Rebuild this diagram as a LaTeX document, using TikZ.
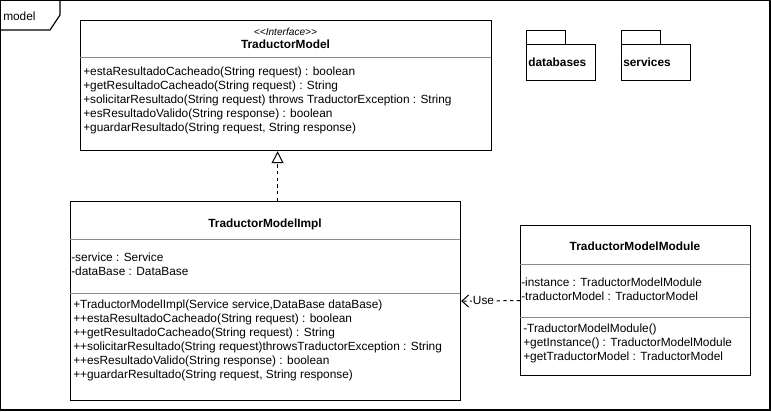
\documentclass[tikz,border=0pt]{standalone}
\usepackage{fontspec}
\setmainfont{Liberation Sans}
\usepackage{tikz}
\usetikzlibrary{arrows.meta}
\definecolor{sepgray}{HTML}{8C8C8C}
\definecolor{inkblack}{HTML}{000000}

\begin{document}
\begin{tikzpicture}[x=0.75pt,y=-0.75pt,>=Latex,
  every node/.style={font=\fontsize{8.9}{10}\selectfont, inner sep=0pt},
  classbox/.style={draw=inkblack, line width=0.9pt, anchor=north west},
  member/.style={anchor=west, text height=6.6pt, text depth=2pt},
  classname/.style={font=\fontsize{8.9}{10}\selectfont\bfseries},
  sepline/.style={draw=sepgray, line width=0.75pt}]
\useasboundingbox (0,0) rectangle (771,411);
% frame and tab
\draw[line width=0.9pt] (0.5,0.5) rectangle (770,410);
\draw[line width=0.9pt] (0.5,30) -- (50,30) -- (60,15) -- (60,0.5);
\node[anchor=west] (modeltab) at (3,16) {model};

% interface
\node[classbox, minimum width=411*0.75pt, minimum height=130*0.75pt] (iface) at (80,20) {};
\node[font=\fontsize{7.6}{8}\selectfont\itshape] (ifacest) at (285.5,32) {\textless\kern0pt\textless Interface\textgreater\kern0pt\textgreater};
\node[classname] (ifacename) at (285.5,44) {TraductorModel};
\draw[sepline] (80,57) -- (491,57);
\foreach \txt [count=\i] in {{+estaResultadoCacheado(String request) : boolean},
  {+getResultadoCacheado(String request) : String},
  {+solicitarResultado(String request) throws TraductorException : String},
  {+esResultadoValido(String response) : boolean},
  {+guardarResultado(String request, String response)}}
  \node[member] (ifop\i) at (83,58+14*\i) {\txt};

% packages
\draw[line width=0.75pt] (526,30) rectangle (565,44);
\draw[line width=0.75pt] (526,44) rectangle (595,80);
\node[classname, anchor=west] (pkgdb) at (528,62) {databases};
\draw[line width=0.75pt] (621,30) rectangle (660,44);
\draw[line width=0.75pt] (621,44) rectangle (690,80);
\node[classname, anchor=west] (pkgsrv) at (623,62) {services};

% implementation
\node[classbox, minimum width=390*0.75pt, minimum height=199*0.75pt] (impl) at (70,201) {};
\node[classname] (implname) at (265,224) {TraductorModelImpl};
\draw[sepline] (70,239) -- (460,239);
\foreach \txt [count=\i] in {{-service : Service}, {-dataBase : DataBase}}
  \node[member] (implat\i) at (71,244+14*\i) {\txt};
\draw[sepline] (70,293) -- (460,293);
\foreach \txt [count=\i] in {{+TraductorModelImpl(Service service,DataBase dataBase)},
  {++estaResultadoCacheado(String request) : boolean},
  {++getResultadoCacheado(String request) : String},
  {++solicitarResultado(String request)throwsTraductorException : String},
  {++esResultadoValido(String response) : boolean},
  {++guardarResultado(String request, String response)}}
  \node[member] (implop\i) at (73,291+14*\i) {\txt};

% module
\node[classbox, minimum width=230*0.75pt, minimum height=150*0.75pt] (module) at (520,225) {};
\node[classname] (modulename) at (635,246) {TraductorModelModule};
\draw[sepline] (520,264) -- (750,264);
\foreach \txt [count=\i] in {{-instance : TraductorModelModule}, {-traductorModel : TraductorModel}}
  \node[member] (modat\i) at (521,269+14*\i) {\txt};
\draw[sepline] (520,317) -- (750,317);
\foreach \txt [count=\i] in {{-TraductorModelModule()}, {+getInstance() : TraductorModelModule},
  {+getTraductorModel : TraductorModel}}
  \node[member] (modop\i) at (523,315+14*\i) {\txt};

% relations
\draw[line width=0.75pt, dash pattern=on 2.5pt off 2.5pt, -{Triangle[open, length=9pt, width=9pt]}]
  ([xshift=9pt]impl.north) -- ([xshift=9pt]impl.north |- iface.south);
\draw[line width=0.75pt, dash pattern=on 2.5pt off 2.5pt, -{Straight Barb[length=5pt, width=9pt]}]
  (module.west) -- node[pos=0.62, fill=white, inner sep=1pt] (uselbl) {Use} (impl.east);
\end{tikzpicture}
\end{document}
